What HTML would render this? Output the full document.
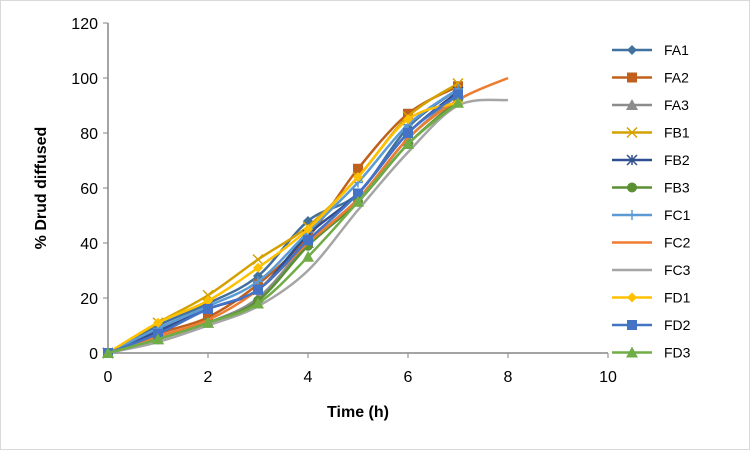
<!DOCTYPE html>
<html><head><meta charset="utf-8"><style>
html,body{margin:0;padding:0;background:#fff}
svg{display:block;font-family:"Liberation Sans",Arial,sans-serif}
</style></head><body>
<svg id="chart" width="750" height="450">
<rect x="0.5" y="0.5" width="749" height="449" fill="#fff" stroke="#d9d9d9"/>
<g id="axes"></g><g id="series"></g><g id="legend"></g>
<text x="358" y="417" text-anchor="middle" font-size="16" font-weight="bold" fill="#000">Time (h)</text>
<text transform="translate(46,188) rotate(-90)" text-anchor="middle" font-size="16" font-weight="bold" fill="#000">% Drud diffused</text>
</svg>
<script>
const xTicks=[0,2,4,6,8,10];
const yTicks=[0,20,40,60,80,100,120];
const seriesNames=["FA1","FA2","FA3","FB1","FB2","FB3","FC1","FC2","FC3","FD1","FD2","FD3"];
const times=[0,1,2,3,4,5,6,7,8];
const FA1=[0,10,18,28,48,58,82,96];
const FA2=[0,7,13,25,42,67,87,97];
const FA3=[0,5,11,20,40,56,78,94];
const FB1=[0,11,21,34,46,64,86,98];
const FB2=[0,8,16,23,43,58,80,95];
const FB3=[0,5,11,19,39,55,76,92];
const FC1=[0,9,17,26,44,62,83,96];
const FC2=[0,6,12,23,40,56,78,92,100];
const FC3=[0,4,10,17,30,52,73,90,92];
const FD1=[0,11,19,31,45,64,85,91];
const FD2=[0,7,16,23,41,58,80,94];
const FD3=[0,5,11,18,35,55,76,91];
const allVals=[FA1,FA2,FA3,FB1,FB2,FB3,FC1,FC2,FC3,FD1,FD2,FD3];
const colors=["#41719C","#C0601C","#8C8C8C","#D4A100","#2F4F8F","#5B8F33","#5B9BD5","#ED7D31","#A5A5A5","#FFC000","#4472C4","#70AD47"];
const markers=["diamond","square","triangle","x","star","circle","plus","none","none","diamond","square","triangle"];
const NS="http://www.w3.org/2000/svg";
const X=v=>108+v*50, Y=v=>353-v*2.75;
function mk(t,a,p){const e=document.createElementNS(NS,t);for(const k in a)e.setAttribute(k,a[k]);p.appendChild(e);return e;}
const ax=document.getElementById('axes');
const yl=mk('line',{x1:108,y1:Y(0),x2:108,y2:Y(120),stroke:'#868686','stroke-width':1.5},ax);


const xl=mk('line',{x1:108,y1:Y(0),x2:608,y2:Y(0),stroke:'#868686','stroke-width':1.5},ax);


yTicks.forEach(v=>{mk('line',{x1:103,y1:Y(v),x2:108,y2:Y(v),stroke:'#868686'},ax);
const t=mk('text',{x:98,y:Y(v)+6,'text-anchor':'end','font-size':16,fill:'#000'},ax);t.textContent=v;

});
xTicks.forEach(v=>{mk('line',{x1:X(v),y1:353,x2:X(v),y2:358,stroke:'#868686'},ax);
const t=mk('text',{x:X(v),y:382,'text-anchor':'middle','font-size':16,fill:'#000'},ax);t.textContent=v;

});
function smooth(pts){let d=`M${pts[0][0]},${pts[0][1]}`;for(let i=0;i<pts.length-1;i++){const p0=pts[i-1]||pts[i],p1=pts[i],p2=pts[i+1],p3=pts[i+2]||p2;const t=1/6;
d+=` C${p1[0]+(p2[0]-p0[0])*t},${p1[1]+(p2[1]-p0[1])*t} ${p2[0]-(p3[0]-p1[0])*t},${p2[1]-(p3[1]-p1[1])*t} ${p2[0]},${p2[1]}`;}return d;}
function marker(g,type,x,y,c){const s=5;
if(type==='diamond')mk('polygon',{points:`${x},${y-s} ${x+s},${y} ${x},${y+s} ${x-s},${y}`,fill:c},g);
else if(type==='square')mk('rect',{x:x-s,y:y-s,width:2*s,height:2*s,fill:c},g);
else if(type==='triangle')mk('polygon',{points:`${x},${y-s-1} ${x+s+1},${y+s} ${x-s-1},${y+s}`,fill:c},g);
else if(type==='circle')mk('circle',{cx:x,cy:y,r:s,fill:c},g);
else if(type==='x'){mk('path',{d:`M${x-s},${y-s}L${x+s},${y+s}M${x-s},${y+s}L${x+s},${y-s}`,stroke:c,'stroke-width':1.5},g);}
else if(type==='plus'){mk('path',{d:`M${x-s},${y}L${x+s},${y}M${x},${y-s}L${x},${y+s}`,stroke:c,'stroke-width':1.5},g);}
else if(type==='star'){mk('path',{d:`M${x-s},${y-s}L${x+s},${y+s}M${x-s},${y+s}L${x+s},${y-s}M${x},${y-s}L${x},${y+s}`,stroke:c,'stroke-width':1.5},g);}}
const sg=document.getElementById('series'),lg=document.getElementById('legend');
allVals.forEach((vals,i)=>{const g=mk('g',{},sg);


const pts=vals.map((v,j)=>[X(times[j]),Y(v)]);
mk('path',{d:smooth(pts),fill:'none',stroke:colors[i],'stroke-width':2.5},g);
if(markers[i]!=='none')pts.forEach(p=>marker(g,markers[i],p[0],p[1],colors[i]));
const ly=50+i*27.5;const lgi=mk('g',{},lg);


mk('line',{x1:612,y1:ly,x2:652,y2:ly,stroke:colors[i],'stroke-width':2.5},lgi);
if(markers[i]!=='none')marker(lgi,markers[i],632,ly,colors[i]);
const t=mk('text',{x:664,y:ly+5,'font-size':14,fill:'#000'},lgi);t.textContent=seriesNames[i];});
</script>
</body></html>
